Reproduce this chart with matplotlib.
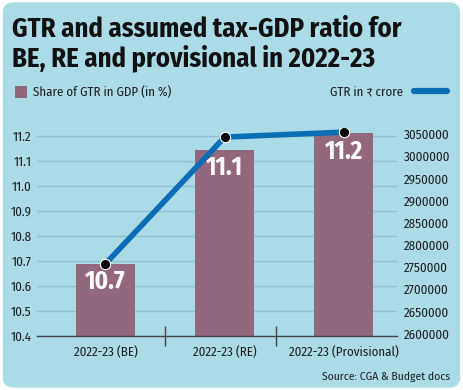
import matplotlib
matplotlib.use("Agg")
import matplotlib.pyplot as plt
from matplotlib.patches import FancyBboxPatch, Rectangle
from matplotlib.lines import Line2D
import numpy as np

plt.rcParams['font.family'] = ['Fira Sans Condensed', 'DejaVu Sans']

categories = ["2022-23 (BE)", "2022-23 (RE)", "2022-23 (Provisional)"]
share_gdp = [10.69, 11.144, 11.21]
share_labels = ["10.7", "11.1", "11.2"]
gtr_crore = [2757820, 3043067, 3054192]
left_ticks = [10.4, 10.5, 10.6, 10.7, 10.8, 10.9, 11.0, 11.1, 11.2]
right_ticks = list(range(2600000, 3050001, 50000))

bg = '#aadbe7'
grid_c = '#8cc2cf'
bar_c = '#93677d'
line_c = '#0b6db4'
txt_c = '#1e1e1e'

fig = plt.figure(figsize=(4.63, 3.9), dpi=100)
fig.patch.set_facecolor('white')
fig.patches.append(FancyBboxPatch((0.006, 0.006), 0.988, 0.988, boxstyle="round,pad=0,rounding_size=0.025",
                                  transform=fig.transFigure, facecolor=bg, edgecolor='none', zorder=-10))

fig.text(0.026, 0.958, "GTR and assumed tax-GDP ratio for\nBE, RE and provisional in 2022-23",
         fontsize=19.2, fontweight='bold', color='#111111', va='top', ha='left', linespacing=1.08)

# legend
fig.patches.append(Rectangle((15 / 463, 1 - 98 / 390), 12 / 463, 12 / 390, transform=fig.transFigure,
                             facecolor=bar_c, edgecolor='none'))
fig.text(33 / 463, 1 - 92 / 390, "Share of GTR in GDP (in %)", fontsize=9.3, color=txt_c, va='center')
fig.text(403 / 463, 1 - 92 / 390, "GTR in ₹ crore", fontsize=9.3, color=txt_c, va='center', ha='right')
fig.lines.append(Line2D([414 / 463, 447 / 463], [1 - 91 / 390, 1 - 91 / 390], transform=fig.transFigure,
                        color=line_c, lw=4.5, solid_capstyle='round'))

ax = fig.add_axes([37 / 463, 54 / 390, 360 / 463, 208 / 390])
ax.set_facecolor('none')
x = np.arange(len(categories))
ax.bar(x, share_gdp, width=0.495, color=bar_c, zorder=2)
for xi, v, lab in zip(x, share_gdp, share_labels):
    ax.text(xi, v - 0.072, lab, ha='center', va='center', color='white', fontsize=18,
            fontweight='bold', zorder=5)
ax.set_ylim(10.4, 11.232)
ax.set_xlim(-0.574, 2.445)
ax.set_yticks(left_ticks)
ax.set_yticklabels([f"{t:.1f}" for t in left_ticks])
ax.yaxis.grid(True, color=grid_c, lw=1)
ax.set_axisbelow(True)
for s in ['top', 'right', 'left']:
    ax.spines[s].set_visible(False)
ax.spines['bottom'].set_color('#444444')
ax.spines['bottom'].set_linewidth(1)
ax.tick_params(axis='y', length=0, pad=4, labelsize=9.3, labelcolor=txt_c)
ax.set_xticks(x)
ax.set_xticklabels(categories)
ax.tick_params(axis='x', length=0, pad=7, labelsize=9.3, labelcolor=txt_c)
ax.set_xticks([0.5, 1.43], minor=True)
ax.tick_params(axis='x', which='minor', direction='inout', length=15, width=1, color='#444444')

ax2 = ax.twinx()
ax2.plot(x, gtr_crore, color=line_c, lw=4, zorder=3, solid_capstyle='butt')
ax2.scatter(x, gtr_crore, s=55, color='black', edgecolors='white', linewidths=0.8, zorder=4)
ax2.set_ylim(2595500, 3063500)
ax2.set_yticks(right_ticks)
ax2.set_yticklabels([str(t) for t in right_ticks])
ax2.tick_params(axis='y', length=0, pad=5, labelsize=9.3, labelcolor=txt_c)
for s in ax2.spines.values():
    s.set_visible(False)

fig.text(450 / 463, 1 - 377 / 390, "Source: CGA & Budget docs", fontsize=8.3, color=txt_c, ha='right', va='center')

fig.savefig("out.png", dpi=100, facecolor='white')
